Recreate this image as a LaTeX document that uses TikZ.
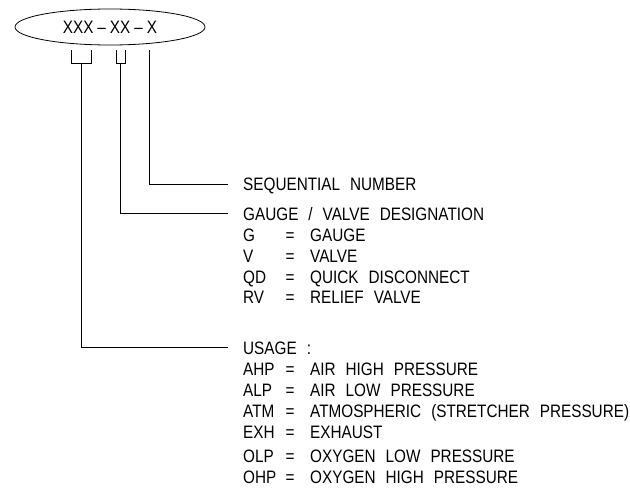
\documentclass[tikz,border=0pt]{standalone}
\usepackage{fontspec}
\setmainfont[FakeStretch=0.85]{Liberation Sans}
\usetikzlibrary{positioning,shapes.geometric}
\newcommand{\kv}[3][40pt]{\makebox[#1][l]{#2}\makebox[14pt]{=}\hspace{13pt}#3}
\newcommand{\legendfont}{\fontsize{18}{21}\selectfont\spaceskip=10pt\relax}

\begin{document}
\begin{tikzpicture}[x=1pt,y=-1pt,
 ln/.style={line width=.8pt},
 txt/.style={anchor=base west,inner sep=0pt,font=\legendfont}]
\useasboundingbox (0,0) rectangle (630,495);
\node[ellipse,draw,ln,minimum width=190pt,minimum height=36pt,inner sep=0pt,font=\legendfont] (code) at (110,27) {XXX\hspace{4pt}--\hspace{4pt}XX\hspace{4pt}--\hspace{4pt}X};
% brackets under the code
\draw[ln] (71,50) |- (91,63) -- (91,50);
\draw[ln] (116,50) |- (125,63) -- (125,50);
\coordinate (b1) at (81,63);
\coordinate (b2) at (120,63);
\coordinate (b3) at (149,50);
\coordinate (e1) at (228,347);
\coordinate (e2) at (228,213);
\coordinate (e3) at (228,184);
\draw[ln] (b3) |- (e3);
\draw[ln] (b2) |- (e2);
\draw[ln] (b1) |- (e1);
% legend texts
\node[txt] (seq) at (243,190.5) {SEQUENTIAL NUMBER};
\node[txt] (gv) at (243,220) {\begin{tabular}[t]{@{}l@{}}
GAUGE / VALVE DESIGNATION\\
\kv{G}{GAUGE}\\
\kv{V}{VALVE}\\
\kv{QD}{QUICK DISCONNECT}\\
\kv{RV}{RELIEF VALVE}
\end{tabular}};
\node[txt] (use) at (243,354) {\begin{tabular}[t]{@{}l@{}}
USAGE :\\
\kv{AHP}{AIR HIGH PRESSURE}\\
\kv{ALP}{AIR LOW PRESSURE}\\
\kv{ATM}{ATMOSPHERIC (STRETCHER PRESSURE)}\\
\kv{EXH}{EXHAUST}\\[3pt]
\kv{OLP}{OXYGEN LOW PRESSURE}\\
\kv{OHP}{OXYGEN HIGH PRESSURE}
\end{tabular}};
\end{tikzpicture}
\end{document}
